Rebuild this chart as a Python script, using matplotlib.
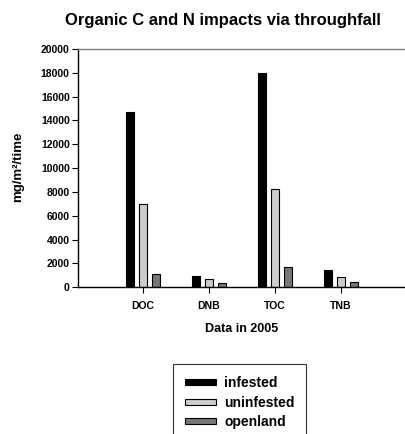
import matplotlib
matplotlib.use("Agg")
import matplotlib.pyplot as plt
import numpy as np

plt.rcParams['font.family'] = ['Liberation Sans', 'DejaVu Sans']
plt.rcParams['font.weight'] = 'bold'

categories = ["DOC", "DNB", "TOC", "TNB"]
series_names = ["infested", "uninfested", "openland"]
infested = [14700, 920, 17980, 1450]
uninfested = [6990, 670, 8280, 840]
openland = [1090, 330, 1680, 420]
colors = ["#000000", "#cccccc", "#777777"]
yticks = [0, 2000, 4000, 6000, 8000, 10000, 12000, 14000, 16000, 18000, 20000]

fig = plt.figure(figsize=(4.06, 4.34), dpi=100)
ax = fig.add_axes([78/406, 1-287.3/434, 1-78/406, (287.3-49)/434])

x = np.arange(len(categories))
w = 0.136
off = 0.197
for i, (vals, name) in enumerate(zip([infested, uninfested, openland], series_names)):
    ax.bar(x + (i-1)*off, vals, width=w, color=colors[i], edgecolor='black',
           linewidth=0.8, label=name, zorder=2)

ax.set_xlim(-0.985, 3.985)
ax.set_ylim(0, 20000)
ax.set_yticks(yticks)
ax.set_yticklabels([str(v) for v in yticks], fontsize=7.5, fontweight='bold')
ax.set_xticks(x)
ax.set_xticklabels(categories, fontsize=7.5, fontweight='bold')
ax.tick_params(axis='both', direction='out', length=4, width=0.8, color='black')
ax.tick_params(axis='x', pad=6)
ax.tick_params(axis='y', pad=2)
ax.spines['top'].set_color('#808080')
ax.spines['top'].set_linewidth(1.0)
ax.spines['right'].set_visible(False)
ax.spines['left'].set_linewidth(1.0)
ax.spines['bottom'].set_linewidth(1.0)

ax.set_xlabel("Data in 2005", fontsize=9, fontweight='bold')
ax.xaxis.label.set_va('center')
ax.xaxis.set_label_coords(0.5, (287.3-329)/238.3)
ax.set_ylabel("mg/m²/time", fontsize=9.5, fontweight='bold')
ax.yaxis.label.set_va('center')
ax.yaxis.set_label_coords((18-78)/328, (287.3-166.5)/238.3)
fig.text(223/406, 1-20/434, "Organic C and N impacts via throughfall",
         ha='center', va='center', fontsize=12, fontweight='bold')

leg = fig.legend(loc='upper left', bbox_to_anchor=(172.7/406, 1-364.3/434),
                 fontsize=10, frameon=True, fancybox=False, edgecolor='black',
                 handlelength=2.3, handleheight=0.3, labelspacing=0.4,
                 borderpad=0.85, handletextpad=0.55, borderaxespad=0)
leg.get_frame().set_linewidth(0.8)
for t in leg.get_texts():
    t.set_fontweight('bold')

fig.savefig("out.png", dpi=100)
